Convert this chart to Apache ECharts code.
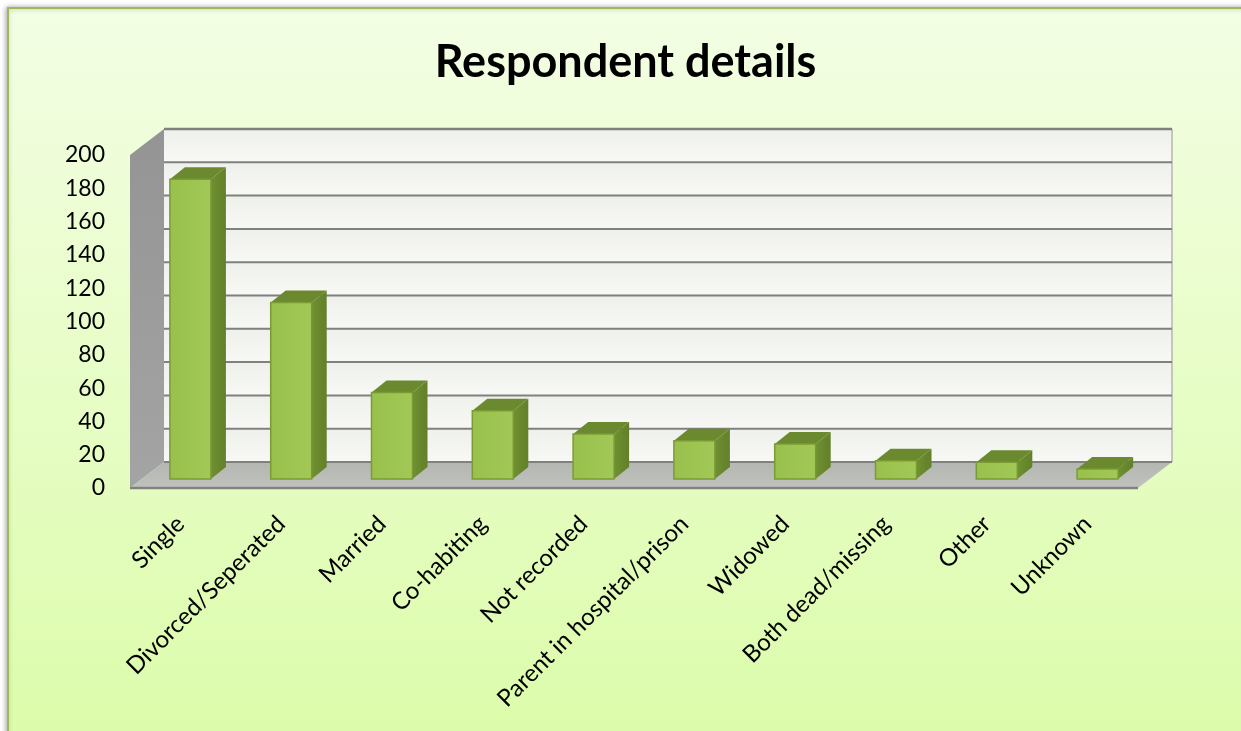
<!DOCTYPE html>
<html>
<head>
<meta charset="utf-8">
<style>html,body{margin:0;padding:0;background:#fff;overflow:hidden}#chart{width:1241px;height:731px}</style>
<script src="https://cdn.jsdelivr.net/npm/echarts@6/dist/echarts.min.js"></script>
</head>
<body>
<div id="chart"></div>
<script>
const categories = ['Single','Divorced/Seperated','Married','Co-habiting','Not recorded','Parent in hospital/prison','Widowed','Both dead/missing','Other','Unknown'];
const respondents = [180,106,52,41,27,23,21,11,10,6];
const valueTicks = [0,20,40,60,80,100,120,140,160,180,200];

// Oblique projection of the 3D box: how far the back wall and a bar's back face sit from the front plane
const WALL_DEPTH = {x: 34, y: -26};
const BAR_DEPTH = {x: 15, y: -12};
const BAR_SHIFT = {x: 10, y: -9};
const BAR_WIDTH = 41;

const FONT = 'Lato';
const vGrad = (a, b) => new echarts.graphic.LinearGradient(0, 0, 0, 1, [{offset: 0, color: a}, {offset: 1, color: b}]);
const hGrad = (a, b) => new echarts.graphic.LinearGradient(0, 0, 1, 0, [{offset: 0, color: a}, {offset: 1, color: b}]);

function renderWalls(params, api) {
  const c = params.coordSys;
  const L = c.x, R = c.x + c.width, T = c.y, B = c.y + c.height;
  const dx = WALL_DEPTH.x, dy = WALL_DEPTH.y;
  const children = [];
  // back wall bands, one per tick interval
  for (let i = 0; i < valueTicks.length - 1; i++) {
    const y0 = api.coord([0, valueTicks[i + 1]])[1] + dy;
    const y1 = api.coord([0, valueTicks[i]])[1] + dy;
    children.push({type: 'rect', shape: {x: L + dx, y: y0, width: c.width, height: y1 - y0},
      style: {fill: vGrad('#eef0eb', '#f8f9f6')}});
  }
  // side wall
  children.push({type: 'polygon', shape: {points: [[L, T], [L + dx, T + dy], [L + dx, B + dy], [L, B]]},
    style: {fill: vGrad('#949494', '#a4a4a4')}});
  // floor
  children.push({type: 'polygon', shape: {points: [[L, B], [R, B], [R + dx, B + dy], [L + dx, B + dy]]},
    style: {fill: vGrad('#b4b6b2', '#c0c2bd')}});
  // right edge of the back wall
  children.push({type: 'line', shape: {x1: R + dx, y1: T + dy, x2: R + dx, y2: B + dy},
    style: {stroke: '#b4b6b2', lineWidth: 1.5}});
  // gridlines across the back wall
  valueTicks.forEach(t => {
    const y = api.coord([0, t])[1] + dy;
    children.push({type: 'line', shape: {x1: L + dx, y1: y, x2: R + dx, y2: y},
      style: {stroke: '#7f817d', lineWidth: t === 200 ? 2.5 : 2}});
  });
  // front lip of the floor
  children.push({type: 'line', shape: {x1: L, y1: B, x2: R, y2: B}, style: {stroke: '#80827e', lineWidth: 2.5}});
  return {type: 'group', children};
}

function renderBar(params, api) {
  const top = api.coord([api.value(0), api.value(1)]);
  const base = api.coord([api.value(0), 0]);
  const x0 = top[0] + BAR_SHIFT.x - BAR_WIDTH / 2, x1 = x0 + BAR_WIDTH;
  const yT = top[1] + BAR_SHIFT.y, yB = base[1] + BAR_SHIFT.y;
  const dx = BAR_DEPTH.x, dy = BAR_DEPTH.y;
  return {type: 'group', children: [
    {type: 'polygon', shape: {points: [[x1, yT], [x1 + dx, yT + dy], [x1 + dx, yB + dy], [x1, yB]]},
      style: {fill: hGrad('#6f9032', '#628028')}},
    {type: 'polygon', shape: {points: [[x0, yT], [x0 + dx, yT + dy], [x1 + dx, yT + dy], [x1, yT]]},
      style: {fill: '#6b8a2f'}},
    {type: 'rect', shape: {x: x0, y: yT, width: BAR_WIDTH, height: yB - yT},
      style: {fill: hGrad('#98c04c', '#a2c957'), stroke: '#7c9a34', lineWidth: 1.5}}
  ]};
}

const chart = echarts.init(document.getElementById('chart'), null, {renderer: 'canvas'});
chart.setOption({
  animation: false,
  backgroundColor: '#ffffff',
  graphic: [{
    type: 'rect', z: -10, silent: true,
    shape: {x: 8, y: 8, width: 1260, height: 760},
    style: {
      fill: vGrad('#f3fee4', '#dbfca8'), stroke: '#9bbb59', lineWidth: 2,
      shadowBlur: 5, shadowColor: 'rgba(0,0,0,0.3)', shadowOffsetX: -1
    }
  }],
  title: {
    text: 'Respondent details', left: 620.5, top: 35, textAlign: 'center',
    textStyle: {fontFamily: FONT, fontSize: 45, fontWeight: 'bold', color: '#000'}
  },
  grid: {left: 130, right: 103, top: 155, bottom: 243},
  xAxis: {
    type: 'category', data: categories,
    axisLine: {show: false}, axisTick: {show: false},
    axisLabel: {interval: 0, rotate: 45, margin: 32, fontFamily: FONT, fontSize: 24, color: '#000',
      verticalAlign: 'middle'}
  },
  yAxis: {
    type: 'value', min: 0, max: 200, interval: 20,
    axisLine: {show: false}, axisTick: {show: false}, splitLine: {show: false},
    axisLabel: {margin: 25, fontFamily: FONT, fontSize: 23, color: '#000'}
  },
  series: [
    {type: 'custom', renderItem: renderWalls, data: [[0, 0]], encode: {x: 0, y: 1}, silent: true, z: 1},
    {type: 'custom', renderItem: renderBar, data: respondents.map((v, i) => [i, v]), encode: {x: 0, y: 1}, z: 2}
  ]
});
</script>
</body>
</html>
